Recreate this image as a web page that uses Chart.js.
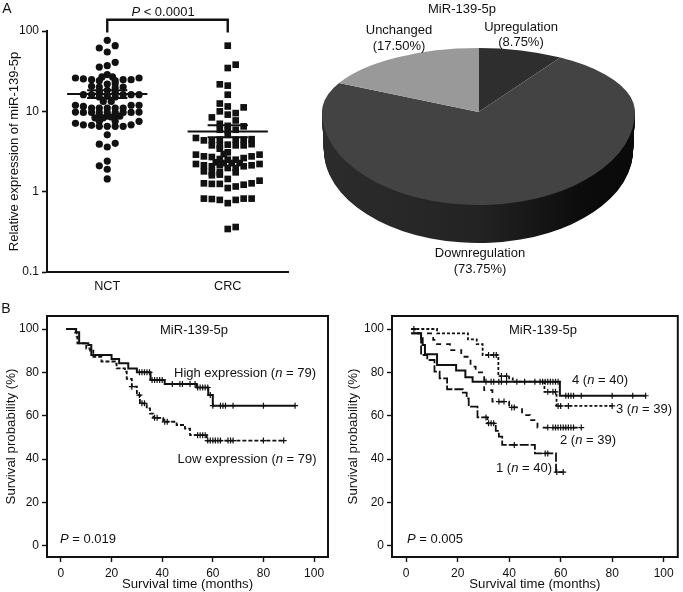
<!DOCTYPE html>
<html>
<head>
<meta charset="utf-8">
<title>MiR-139-5p</title>
<script src="https://cdn.jsdelivr.net/npm/chart.js@4/dist/chart.umd.min.js"></script>
<style>
    html, body { margin: 0; padding: 0; background: #fff; }
    body { position: relative; width: 683px; height: 592px; overflow: hidden; font-family: "Liberation Sans", Arial, sans-serif; color: #111; }
    canvas { position: absolute; }
    .t { position: absolute; transform: translate(-50%, -50%); white-space: nowrap; font-size: 13px; line-height: 1; }
    .t i { font-style: italic; }
</style>
</head>
<body>
<canvas id="scatter" width="295" height="296" style="left:0;top:0"></canvas>
<canvas id="pie" width="383" height="314" style="left:287px;top:0"></canvas>
<canvas id="kmLeft" width="340" height="292" style="left:0;top:300px"></canvas>
<canvas id="kmRight" width="343" height="292" style="left:340px;top:300px"></canvas>

<div class="t" style="left:7px;top:8px;font-size:14px">A</div>
<div class="t" style="left:163px;top:11px"><i>P</i> &lt; 0.0001</div>
<div class="t" style="left:462px;top:8px">MiR-139-5p</div>
<div class="t" style="left:399px;top:29px">Unchanged</div>
<div class="t" style="left:399px;top:45px">(17.50%)</div>
<div class="t" style="left:521px;top:26px">Upregulation</div>
<div class="t" style="left:521px;top:41px">(8.75%)</div>
<div class="t" style="left:480px;top:252px">Downregulation</div>
<div class="t" style="left:480px;top:268px">(73.75%)</div>

<div class="t" style="left:6px;top:308px;font-size:14px">B</div>
<div class="t" style="left:194px;top:329px">MiR-139-5p</div>
<div class="t" style="left:245px;top:372px">High expression (<i>n</i> = 79)</div>
<div class="t" style="left:247px;top:458px">Low expression (<i>n</i> = 79)</div>
<div class="t" style="left:88px;top:538px"><i>P</i> = 0.019</div>

<div class="t" style="left:543px;top:329px">MiR-139-5p</div>
<div class="t" style="left:600px;top:379px">4 (<i>n</i> = 40)</div>
<div class="t" style="left:644px;top:408px">3 (<i>n</i> = 39)</div>
<div class="t" style="left:588px;top:439px">2 (<i>n</i> = 39)</div>
<div class="t" style="left:524px;top:467px">1 (<i>n</i> = 40)</div>
<div class="t" style="left:435px;top:538px"><i>P</i> = 0.005</div>

<script>
// Panel A, dot plot
const groupNames = ['NCT', 'CRC'];
const logTicks = [0.1, 1, 10, 100];
const nctOffsets = [0, .066, -.066, 0, .066, 0, -.066,
    0, -.044, .044, -.264, .264, -.198, -.13, .198, -.066, .066, .132, 0, .066, -.13, -.066, .132, .066, 0, -.066, .066,
    -.198, -.13, .198, .264, .132, 0, -.066, .066, -.033, .033,
    -.264, -.198, .198, .264, -.13, -.066, 0, .066, .132,
    -.264, -.198, -.13, -.066, 0, .066, .132, .198, .264,
    -.066, 0, .066, -.102, -.033, .033, .105,
    -.264, -.198, -.13, -.066, 0, .066, .132, .198, .264, -.066, .066,
    0, -.066, .066, 0, -.066, 0, 0, 0];
const nctValues = [76.5, 65.7, 61.4, 54.8, 40.7, 37, 35.6,
    28.6, 26.8, 26.8, 26, 26, 25.3, 24.8, 24.8, 24.1, 24.1, 24.8, 21.9, 22.1, 20.5, 20.1, 20.1, 19.5, 18.3, 17.2, 17.2,
    16.1, 16.1, 16.1, 16.1, 16.1, 15.4, 15.1, 15.1, 13.3, 13.3,
    11.9, 11.5, 11.9, 11.9, 11, 11, 11, 11, 11,
    9.8, 9.7, 9.7, 9.7, 9.7, 9.7, 9.7, 9.7, 9.8,
    8.7, 8.7, 8.8, 8.3, 8.3, 8.5, 8.7,
    7.1, 6.8, 6.7, 6.5, 6.5, 6.5, 6.5, 6.8, 7.5, 7.5, 7.5,
    5.1, 3.9, 4, 3.6, 2.1, 2.4, 1.9, 1.44];
const crcOffsets = [0, .066, 0, -.066, 0, 0, -.066, .132, 0, -.066, .066, 0, -.132, .066,
    -.066, 0, .132, -.066, 0, .066,
    0, -.264, -.198, .198, -.132, -.066, .066, .132,
    -.132, -.066, 0, .066, .132, .198, -.066, 0, -.033,
    -.264, -.198, .264, .198, -.132, .132, .066, -.066, 0, -.099, -.033, .033, .099,
    -.264, .264, -.198, .198, -.132, -.066, .132, 0, .066,
    -.198, -.132, -.066, .066, -.132, -.066, 0,
    -.198, -.132, -.066, .066, 0, .132, .198, .264,
    -.198, -.132, -.066, 0, .066, .132, .198, 0, .066];
const crcValues = [65.7, 38.1, 34.6, 21.7, 20.9, 16.1, 12.5, 11.2, 11.5, 10, 9.5, 9.1, 8.4, 7.7,
    7, 6.6, 6.5, 5.9, 5.8, 5.9,
    5.1, 4.66, 4.35, 4.5, 4.35, 4.44, 4.44, 4.44,
    3.77, 3.77, 3.85, 3.77, 3.77, 3.9, 3.43, 3.09, 2.94,
    2.89, 2.75, 2.89, 2.75, 2.7, 2.62, 2.5, 2.55, 2.5, 2.32, 2.27, 2.27, 2.27,
    2.21, 2.21, 2.13, 2.13, 2.07, 2.13, 2.07, 1.97, 1.97,
    1.79, 1.74, 1.74, 1.74, 1.6, 1.63, 1.44,
    1.27, 1.25, 1.25, 1.16, 1.11, 1.22, 1.27, 1.37,
    .82, .81, .79, .72, .79, .82, .82, .343, .363];
const groupMeans = [16.4, 5.63];
const groupSemLow = [14.7, 4.75];
const groupSemHigh = [18.3, 6.7];
const bracketY = [96, 138, 138, 96];

// Panel A, pie
const pieLabels = ['Upregulation', 'Downregulation', 'Unchanged'];
const pieValues = [8.75, 73.75, 17.5];

// Panel B, survival curves
const kmTicks = [0, 20, 40, 60, 80, 100];

const highTimes = [2, 6, 7.2, 10.8, 12, 20, 23, 26.6, 30, 35.4, 41, 53.6, 58.2, 60, 92.5];
const highSurv = [100, 98.5, 93.4, 92.6, 88, 86.2, 84.2, 81.8, 80, 76.5, 74.6, 73, 69.5, 64.6, 64.6];
const highCensor = [31, 32, 33, 34, 35, 36, 37, 38, 39, 40, 44, 47, 48, 51, 53, 54, 55, 56, 57, 58, 59, 60, 63, 64, 65, 68, 80, 92.5];
const lowTimes = [2, 5.5, 6.2, 6.5, 10, 11.5, 12.8, 16, 21.3, 22, 25.3, 26, 28, 30, 31.2, 33.9, 35.2, 36.5, 40.4, 45.7, 49, 51, 57.6, 88];
const lowSurv = [100, 98.5, 96.5, 93.4, 91, 90, 87.2, 85, 84, 81.8, 80.3, 77, 73.4, 69.5, 65.7, 63.4, 61, 59, 57.2, 55.7, 54, 51, 48.5, 48.5];
const lowCensor = [28, 31, 32, 33, 37, 38, 41, 42, 54, 55, 56, 57, 58, 59, 60, 61, 62, 63, 66, 67, 68, 80, 88];

const q4Times = [2, 5.8, 6.4, 7.3, 12, 19.4, 23, 25.8, 59.7, 93];
const q4Surv = [98, 95.7, 92.6, 88.3, 83.4, 80.8, 77.7, 75.7, 69.2, 69.2];
const q4Censor = [31, 33, 34, 36, 37, 39, 43, 46, 50, 52, 53, 54, 55, 56, 57, 58, 59, 62, 63, 64, 65, 68, 80, 88, 93];
const q3Times = [2, 12, 24, 27.4, 29.7, 35.8, 40, 41.4, 53.7, 58.4, 80];
const q3Surv = [100, 98, 95.2, 93, 88, 78.3, 77.2, 75.7, 71, 64.5, 64.5];
const q3Censor = [3, 32, 34, 35, 37, 39, 55, 57, 58, 59, 60, 63, 80];
const q2Times = [2, 3.5, 10.5, 11, 17, 21.4, 25, 27, 30.3, 33.5, 40, 45, 48.2, 51, 68];
const q2Surv = [100, 98, 95, 93, 90.3, 87.2, 82.6, 80, 71.8, 66.5, 63.8, 60.3, 58, 54.5, 54.5];
const q2Censor = [36, 38, 41, 42, 55, 57, 58, 59, 60, 61, 62, 63, 64, 65, 68];
const q1Times = [2, 5.8, 8.2, 11, 13, 15.9, 22, 23.5, 24.3, 27.7, 31.6, 34.8, 36, 37.3, 50, 58.2, 61];
const q1Surv = [98, 88, 85.7, 80.3, 77.2, 72.2, 70.6, 68, 64.2, 59.2, 56.5, 53, 50.3, 46.5, 42.6, 34, 34];
const q1Censor = [31, 32, 33, 34, 42, 54, 55, 58.5, 61];

const FONT = 'Liberation Sans';
const INK = '#111';

Chart.defaults.font.family = FONT;
Chart.defaults.color = INK;
Chart.defaults.animation = false;

function zip(xs, ys) {
    return xs.map((x, i) => ({ x: x, y: ys[i] }));
}

// the survival level a censored patient sits on
function levelAt(times, surv, t) {
    let level = surv[0];
    times.forEach((time, i) => {
        if (time <= t) level = surv[i];
    });
    return level;
}

function segment(centre, halfWidth, value) {
    return {
        data: [{ x: centre - halfWidth, y: value }, { x: centre + halfWidth, y: value }],
        showLine: true,
        borderColor: INK,
        borderWidth: 2,
        pointRadius: 0
    };
}

function drawScatter() {
    const datasets = [];
    groupNames.forEach((name, i) => {
        const c = i + 1;
        datasets.push(segment(c, 0.333, groupMeans[i]));
        datasets.push(segment(c, 0.167, groupSemLow[i]));
        datasets.push(segment(c, 0.167, groupSemHigh[i]));
    });
    datasets.push({
        data: nctOffsets.map((o, i) => ({ x: 1 + o, y: nctValues[i] })),
        backgroundColor: INK,
        borderWidth: 0,
        pointStyle: 'circle',
        pointRadius: 3.6
    });
    datasets.push({
        data: crcOffsets.map((o, i) => ({ x: 2 + o, y: crcValues[i] })),
        backgroundColor: INK,
        borderWidth: 0,
        pointStyle: 'rect',
        pointRadius: 4.7
    });
    // bracket over the two groups sits above the axis
    datasets.push({
        data: zip([1, 1, 2, 2], bracketY),
        showLine: true,
        borderColor: INK,
        borderWidth: 2.4,
        pointRadius: 0,
        clip: false
    });

    new Chart(document.getElementById('scatter'), {
        type: 'scatter',
        data: { datasets: datasets },
        options: {
            responsive: false,
            layout: { padding: { top: 31, right: 7 } },
            plugins: { legend: { display: false }, tooltip: { enabled: false } },
            scales: {
                x: {
                    type: 'linear',
                    min: 0.5,
                    max: 2.5,
                    afterFit: s => { s.height = 24; },
                    afterBuildTicks: s => { s.ticks = [{ value: 1 }, { value: 2 }]; },
                    grid: { display: false },
                    border: { color: INK, width: 2 },
                    ticks: { font: { size: 12.7 }, padding: -1, callback: v => groupNames[v - 1] }
                },
                y: {
                    type: 'logarithmic',
                    min: 0.1,
                    max: 100,
                    afterFit: s => { s.width = 47; },
                    afterBuildTicks: s => { s.ticks = logTicks.map(v => ({ value: v })); },
                    grid: { drawOnChartArea: false, tickLength: 5, tickWidth: 1.6, tickColor: INK },
                    border: { color: INK, width: 2 },
                    ticks: { font: { size: 12 }, padding: 3, callback: v => String(v) },
                    title: {
                        display: true,
                        text: 'Relative expression of miR-139-5p',
                        font: { size: 13 },
                        padding: { top: 7, bottom: 0 }
                    }
                }
            }
        }
    });
}

// squashes the flat pie into the tilted disc of the figure
const tiltPlugin = {
    id: 'tilt',
    beforeDatasetsDraw(chart) {
        const ctx = chart.ctx;
        const arcs = chart.getDatasetMeta(0).data;
        const cx = arcs[0].x;
        const cy = arcs[0].y;
        const r = arcs[0].outerRadius;
        const apexY = 112;
        const upperK = 64 / r;
        const lowerK = 93 / r;
        const depth = 38;

        const side = ctx.createLinearGradient(cx - r, 0, cx + r, 0);
        side.addColorStop(0, '#2c2c2c');
        side.addColorStop(0.5, '#232323');
        side.addColorStop(0.85, '#0b0b0b');
        side.addColorStop(1, '#0a0a0a');

        function paint(top, bottom, k, dy, sx, fill) {
            ctx.save();
            ctx.beginPath();
            ctx.rect(0, top, chart.width, bottom - top);
            ctx.clip();
            ctx.translate(cx, apexY + dy);
            ctx.scale(sx, k);
            ctx.translate(-cx, -cy);
            arcs.forEach(arc => {
                if (!fill) {
                    arc.draw(ctx);
                    return;
                }
                const keep = arc.options;
                arc.options = Object.create(keep, { backgroundColor: { value: fill } });
                arc.draw(ctx);
                arc.options = keep;
            });
            ctx.restore();
        }

        for (let d = depth; d > 0; d--) {
            paint(apexY, chart.height, lowerK, d, 1 - 0.012 * d / depth, side);
        }
        paint(0, apexY, upperK, 0, 1, null);
        paint(apexY, chart.height, lowerK, 0, 1, null);
        return false;
    }
};

function drawPie() {
    new Chart(document.getElementById('pie'), {
        type: 'pie',
        data: {
            labels: pieLabels,
            datasets: [{
                data: pieValues,
                backgroundColor: ['#2e2e2e', '#434343', '#999999'],
                borderWidth: 0
            }]
        },
        options: {
            responsive: false,
            radius: 156.5,
            plugins: { legend: { display: false }, tooltip: { enabled: false } }
        },
        plugins: [tiltPlugin]
    });
}

const framePlugin = {
    id: 'frame',
    afterDraw(chart) {
        const a = chart.chartArea;
        const ctx = chart.ctx;
        ctx.save();
        ctx.strokeStyle = INK;
        ctx.lineWidth = 2;
        ctx.strokeRect(a.left, a.top, a.right - a.left, a.bottom - a.top);
        ctx.restore();
    }
};

function curve(times, surv, censor, dash) {
    return [{
        data: zip(times, surv),
        showLine: true,
        stepped: true,
        borderColor: INK,
        borderWidth: dash.length ? 1.8 : 2,
        borderDash: dash,
        pointRadius: 0
    }, {
        data: censor.map(t => ({ x: t, y: levelAt(times, surv, t) })),
        showLine: false,
        pointStyle: 'cross',
        pointRadius: 3,
        borderColor: INK,
        borderWidth: 1.2
    }];
}

function drawKm(id, datasets, leftPad, rightEdge) {
    const kmAxis = (min, max) => ({
        type: 'linear',
        min: min,
        max: max,
        afterBuildTicks: s => { s.ticks = kmTicks.map(v => ({ value: v })); },
        grid: { drawOnChartArea: false, tickLength: 5, tickWidth: 1.4, tickColor: INK },
        border: { color: INK, width: 2 },
        ticks: { font: { size: 12 }, padding: 3 }
    });
    const xAxis = kmAxis(-5.5, 105.5);
    xAxis.ticks.padding = 4;
    xAxis.afterFit = s => { s.height = 35; };
    xAxis.title = {
        display: true,
        text: 'Survival time (months)',
        font: { size: 13.2 },
        padding: { top: 0, bottom: 0 }
    };
    const yAxis = kmAxis(-5.2, 106);
    yAxis.afterFit = s => { s.width = leftPad; };
    yAxis.title = {
        display: true,
        text: 'Survival probability (%)',
        font: { size: 13.3 },
        padding: { top: leftPad === 47 ? 3 : 5, bottom: 0 }
    };

    new Chart(document.getElementById(id), {
        type: 'scatter',
        data: { datasets: datasets },
        options: {
            responsive: false,
            layout: { padding: { top: 16, right: rightEdge } },
            plugins: { legend: { display: false }, tooltip: { enabled: false } },
            scales: { x: xAxis, y: yAxis }
        },
        plugins: [framePlugin]
    });
}

drawScatter();
drawPie();
drawKm('kmLeft', [
    ...curve(highTimes, highSurv, highCensor, []),
    ...curve(lowTimes, lowSurv, lowCensor, [4, 2])
], 47, 12);
drawKm('kmRight', [
    ...curve(q4Times, q4Surv, q4Censor, []),
    ...curve(q3Times, q3Surv, q3Censor, [3, 2]),
    ...curve(q2Times, q2Surv, q2Censor, [5, 5]),
    ...curve(q1Times, q1Surv, q1Censor, [9, 2])
], 52, 2);
</script>
</body>
</html>
